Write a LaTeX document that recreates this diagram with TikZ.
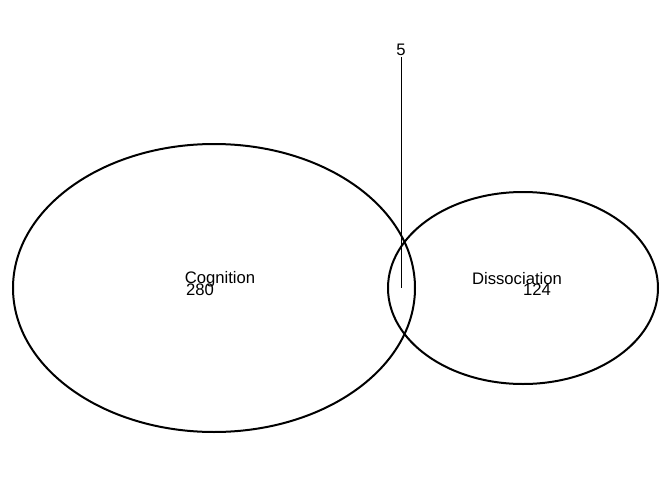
\documentclass[tikz,border=0pt]{standalone}
\usepackage{fontspec}
\setmainfont{Liberation Sans}
\begin{document}
\begin{tikzpicture}[x=0.75pt, y=0.75pt, every node/.style={inner sep=1pt, font=\fontsize{12.5}{12.5}\selectfont}]
		\useasboundingbox (0,0) rectangle (672,480);
		% Sets
		\coordinate (C1) at (214,192);
		\coordinate (C2) at (523,192);
		\draw[line width=1.5pt] (C1) ellipse [x radius=201, y radius=144];
		\draw[line width=1.5pt] (C2) ellipse [x radius=135, y radius=96];
		
		% Set names and counts
		\node (cog) at (220,201) {Cognition};
		\node (n280) at (200,190) {280};
		\node (dis) at (517,201) {Dissociation};
		\node (n124) at (537,190) {124};
		
		% Overlap count
		\coordinate (O) at (401,192);
		\node (n5) at (401,430) {5};
		\draw[line width=0.5pt] (n5.south) -- (O);
	\end{tikzpicture}
\end{document}
